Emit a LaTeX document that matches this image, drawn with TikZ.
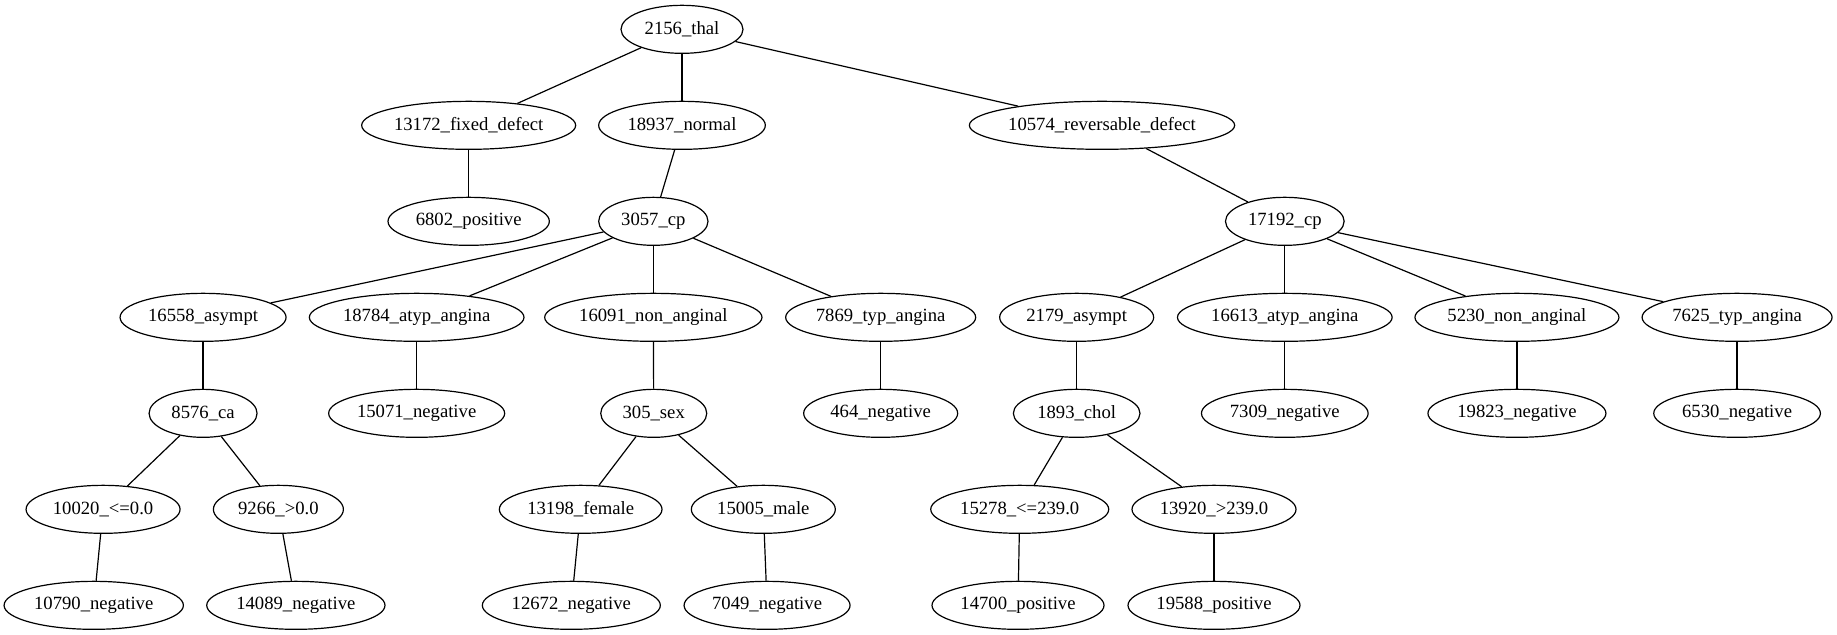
\documentclass[tikz,border=0pt]{standalone}
\usepackage{fontspec}
\setmainfont{Liberation Serif}
\usetikzlibrary{shapes.geometric}
\begin{document}
\begin{tikzpicture}[x=1pt,y=-1pt,
  tn/.style={draw,ellipse,line width=0.9pt,inner sep=0pt,minimum height=36pt,
             font=\fontsize{14}{16.8}\selectfont},
  edge/.style={line width=0.9pt}]
\useasboundingbox (0,0) rectangle (1377.75,476);
% rank 0
\node[tn,minimum width=91.5pt]  (thal)  at (511.5,22)  {2156\_thal};
% rank 1
\node[tn,minimum width=160.5pt] (fixd)  at (351.5,94)  {13172\_fixed\_defect};
\node[tn,minimum width=125pt]   (norm)  at (511.5,94)  {18937\_normal};
\node[tn,minimum width=197.6pt] (revd)  at (826.5,94)  {10574\_reversable\_defect};
% rank 2
\node[tn,minimum width=121pt]   (pos1)  at (351.5,166) {6802\_positive};
\node[tn,minimum width=82pt]    (cpa)   at (490,166)   {3057\_cp};
\node[tn,minimum width=89pt]    (cpb)   at (963.6,166) {17192\_cp};
% rank 3
\node[tn,minimum width=124.5pt] (asa)   at (152.3,238) {16558\_asympt};
\node[tn,minimum width=161pt]   (ata)   at (312.5,238) {18784\_atyp\_angina};
\node[tn,minimum width=163pt]   (naa)   at (490,238)   {16091\_non\_anginal};
\node[tn,minimum width=142.5pt] (tya)   at (660.5,238) {7869\_typ\_angina};
\node[tn,minimum width=115.5pt] (asb)   at (807.5,238) {2179\_asympt};
\node[tn,minimum width=161pt]   (atb)   at (963.6,238) {16613\_atyp\_angina};
\node[tn,minimum width=153pt]   (nab)   at (1137.7,238){5230\_non\_anginal};
\node[tn,minimum width=142.5pt] (tyb)   at (1302.8,238){7625\_typ\_angina};
% rank 4
\node[tn,minimum width=81pt]    (ca)    at (152.3,310) {8576\_ca};
\node[tn,minimum width=132pt]   (neg1)  at (312.5,310) {15071\_negative};
\node[tn,minimum width=79.5pt]  (sex)   at (490.3,310) {305\_sex};
\node[tn,minimum width=115.5pt] (neg2)  at (660.5,310) {464\_negative};
\node[tn,minimum width=95pt]    (chol)  at (807.5,310) {1893\_chol};
\node[tn,minimum width=125pt]   (neg3)  at (963.6,310) {7309\_negative};
\node[tn,minimum width=133.5pt] (neg4)  at (1137.7,310){19823\_negative};
\node[tn,minimum width=125pt]   (neg5)  at (1302.8,310){6530\_negative};
% rank 5
\node[tn,minimum width=115.5pt] (cale)  at (77.3,382)  {10020\_<=0.0};
\node[tn,minimum width=97.5pt]  (cagt)  at (208.8,382) {9266\_>0.0};
\node[tn,minimum width=122pt]   (fem)   at (435.5,382) {13198\_female};
\node[tn,minimum width=108pt]   (male)  at (572.5,382) {15005\_male};
\node[tn,minimum width=133.5pt] (chle)  at (764.8,382) {15278\_<=239.0};
\node[tn,minimum width=123pt]   (chgt)  at (910.5,382) {13920\_>239.0};
% rank 6
\node[tn,minimum width=134.5pt] (neg6)  at (70.3,454)  {10790\_negative};
\node[tn,minimum width=133.7pt] (neg7)  at (221.9,454) {14089\_negative};
\node[tn,minimum width=133.5pt] (neg8)  at (428.5,454) {12672\_negative};
\node[tn,minimum width=124.5pt] (neg9)  at (575.3,454) {7049\_negative};
\node[tn,minimum width=129pt]   (pos2)  at (763.5,454) {14700\_positive};
\node[tn,minimum width=129pt]   (pos3)  at (910.5,454) {19588\_positive};
% tree edges
\draw[edge] (thal) -- (fixd);
\draw[edge] (thal) -- (norm);
\draw[edge] (thal) -- (revd);
\draw[edge] (fixd) -- (pos1);
\draw[edge] (norm) -- (cpa);
\draw[edge] (revd) -- (cpb);
\draw[edge] (cpa) -- (asa);
\draw[edge] (cpa) -- (ata);
\draw[edge] (cpa) -- (naa);
\draw[edge] (cpa) -- (tya);
\draw[edge] (cpb) -- (asb);
\draw[edge] (cpb) -- (atb);
\draw[edge] (cpb) -- (nab);
\draw[edge] (cpb) -- (tyb);
\draw[edge] (asa) -- (ca);
\draw[edge] (ata) -- (neg1);
\draw[edge] (naa) -- (sex);
\draw[edge] (tya) -- (neg2);
\draw[edge] (asb) -- (chol);
\draw[edge] (atb) -- (neg3);
\draw[edge] (nab) -- (neg4);
\draw[edge] (tyb) -- (neg5);
\draw[edge] (ca) -- (cale);
\draw[edge] (ca) -- (cagt);
\draw[edge] (sex) -- (fem);
\draw[edge] (sex) -- (male);
\draw[edge] (chol) -- (chle);
\draw[edge] (chol) -- (chgt);
\draw[edge] (cale) -- (neg6);
\draw[edge] (cagt) -- (neg7);
\draw[edge] (fem) -- (neg8);
\draw[edge] (male) -- (neg9);
\draw[edge] (chle) -- (pos2);
\draw[edge] (chgt) -- (pos3);
\end{tikzpicture}
\end{document}
